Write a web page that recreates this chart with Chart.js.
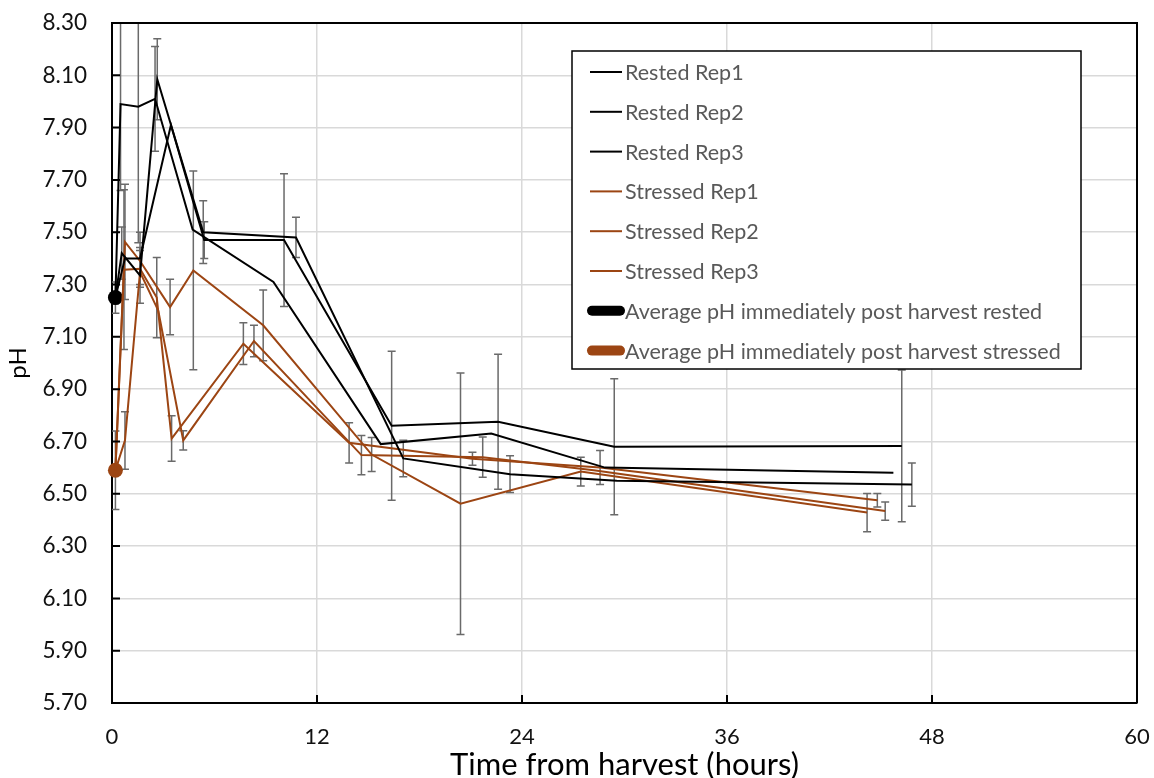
<!DOCTYPE html>
<html><head><meta charset="utf-8">
<script src="https://cdn.jsdelivr.net/npm/chart.js@4.4.1/dist/chart.umd.min.js"></script>
<style>html,body{margin:0;padding:0;background:#fff;}#wrap{width:1154px;height:778px;position:relative;}</style>
</head><body><div id="wrap"><canvas id="c" width="1154" height="778"></canvas></div>
<script>
// ---- data (hours from harvest, pH, +/- error) ----
const restedRep1X   = [0.2, 0.5, 1.54, 2.52, 4.72, 9.45, 15.73, 22.2, 28.86, 45.74];
const restedRep1Y   = [7.25, 7.99, 7.98, 8.01, 7.51, 7.31, 6.69, 6.73, 6.60, 6.58];
const restedRep1Err = [0, 0.33, 0.52, 0.20, 0, 0, 0, 0, 0, 0];

const restedRep2X   = [0.2, 0.57, 1.64, 2.65, 5.34, 10.77, 17.05, 23.3, 29.55, 46.82];
const restedRep2Y   = [7.25, 7.42, 7.335, 8.085, 7.50, 7.48, 6.635, 6.575, 6.55, 6.535];
const restedRep2Err = [0, 0.10, 0.107, 0.155, 0.12, 0.077, 0.07, 0.07, 0, 0.083];

const restedRep3X   = [0.2, 0.76, 1.64, 3.45, 5.4, 10.07, 16.37, 22.6, 29.4, 46.23];
const restedRep3Y   = [7.25, 7.40, 7.40, 7.91, 7.47, 7.47, 6.76, 6.775, 6.68, 6.683];
const restedRep3Err = [0, 0, 0.10, 0, 0.07, 0.254, 0.285, 0.258, 0.26, 0.29];

const stressedRep1X   = [0.2, 0.76, 1.64, 3.40, 4.76, 8.85, 15.2, 20.4, 27.44, 44.2];
const stressedRep1Y   = [6.59, 7.463, 7.39, 7.214, 7.354, 7.144, 6.65, 6.462, 6.585, 6.428];
const stressedRep1Err = [0, 0.22, 0, 0.106, 0.38, 0.135, 0.065, 0.50, 0.055, 0.073];

const stressedRep2X   = [0.2, 0.7, 1.64, 2.62, 3.49, 7.69, 13.88, 21.1, 28.57, 44.8];
const stressedRep2Y   = [6.59, 7.357, 7.36, 7.25, 6.711, 7.074, 6.695, 6.634, 6.60, 6.475];
const stressedRep2Err = [0, 0.305, 0.07, 0.153, 0.087, 0.08, 0.077, 0.025, 0.065, 0.026];

const stressedRep3X   = [0.2, 0.76, 1.64, 2.71, 4.17, 8.31, 14.6, 21.7, 28.2, 45.26];
const stressedRep3Y   = [6.59, 6.704, 7.348, 7.20, 6.704, 7.084, 6.648, 6.64, 6.59, 6.434];
const stressedRep3Err = [0, 0.11, 0, 0, 0.037, 0.06, 0.075, 0.077, 0, 0.035];

const avgRestedX = [0.2],  avgRestedY = [7.25],  avgRestedErr = [0.06];
const avgStressedX = [0.2], avgStressedY = [6.59], avgStressedErr = [0.15];

const seriesNames = ['Rested Rep1','Rested Rep2','Rested Rep3','Stressed Rep1','Stressed Rep2','Stressed Rep3',
  'Average pH immediately post harvest rested','Average pH immediately post harvest stressed'];

const yMin = 5.7, yMax = 8.3, yStep = 0.2;
const xMin = 0, xMax = 60, xStep = 12;

// ---- styles ----
const BLACK = '#000000', BROWN = '#9C4513', ERR = '#6a6a6a';
const pts = (xs, ys) => xs.map((x, i) => ({x, y: ys[i]}));

function lineDs(label, xs, ys, errs, color) {
  return {label, data: pts(xs, ys), errors: errs, borderColor: color, backgroundColor: color,
    borderWidth: 2, pointRadius: 0, pointHoverRadius: 0, tension: 0, fill: false, thick: false};
}
function dotDs(label, xs, ys, errs, color) {
  return {label, data: pts(xs, ys), errors: errs, borderColor: color, backgroundColor: color,
    showLine: false, pointRadius: 7.5, pointBorderWidth: 0, pointBackgroundColor: color, thick: true, clip: false};
}

const datasets = [
  lineDs(seriesNames[0], restedRep1X, restedRep1Y, restedRep1Err, BLACK),
  lineDs(seriesNames[1], restedRep2X, restedRep2Y, restedRep2Err, BLACK),
  lineDs(seriesNames[2], restedRep3X, restedRep3Y, restedRep3Err, BLACK),
  lineDs(seriesNames[3], stressedRep1X, stressedRep1Y, stressedRep1Err, BROWN),
  lineDs(seriesNames[4], stressedRep2X, stressedRep2Y, stressedRep2Err, BROWN),
  lineDs(seriesNames[5], stressedRep3X, stressedRep3Y, stressedRep3Err, BROWN),
  dotDs(seriesNames[6], avgRestedX, avgRestedY, avgRestedErr, BLACK),
  dotDs(seriesNames[7], avgStressedX, avgStressedY, avgStressedErr, BROWN)
];

const errorBars = {
  id: 'errorBars',
  beforeDatasetsDraw(chart) {
    const {ctx, chartArea: ca, scales: {x, y}} = chart;
    ctx.save();
    ctx.beginPath(); ctx.rect(ca.left, ca.top, ca.right - ca.left, ca.bottom - ca.top); ctx.clip();
    ctx.strokeStyle = ERR; ctx.lineWidth = 1.5;
    chart.data.datasets.forEach(ds => {
      if (!ds.errors) return;
      ds.data.forEach((p, i) => {
        const e = ds.errors[i]; if (!e) return;
        const px = x.getPixelForValue(p.x);
        const y1 = y.getPixelForValue(p.y + e), y2 = y.getPixelForValue(p.y - e);
        ctx.beginPath();
        ctx.moveTo(px, y1); ctx.lineTo(px, y2);
        ctx.moveTo(px - 4, y1); ctx.lineTo(px + 4, y1);
        ctx.moveTo(px - 4, y2); ctx.lineTo(px + 4, y2);
        ctx.stroke();
      });
    });
    ctx.restore();
  }
};

const frame = {
  id: 'frame',
  afterDatasetsDraw(chart) {
    const {ctx, chartArea: ca, scales: {x, y}} = chart;
    ctx.save();
    ctx.strokeStyle = BLACK; ctx.lineWidth = 2;
    ctx.beginPath();
    ctx.moveTo(ca.left, ca.top); ctx.lineTo(ca.right, ca.top); ctx.lineTo(ca.right, ca.bottom);
    ctx.moveTo(ca.left, ca.bottom); ctx.lineTo(ca.right, ca.bottom);
    ctx.stroke();
    ctx.beginPath();
    y.ticks.forEach(t => { const py = y.getPixelForValue(t.value); ctx.moveTo(ca.left, py); ctx.lineTo(ca.left + 8, py); });
    x.ticks.forEach(t => { const px = x.getPixelForValue(t.value); ctx.moveTo(px, ca.bottom); ctx.lineTo(px, ca.bottom - 8); });
    ctx.stroke();
    ctx.restore();
  }
};

const legendBox = {
  id: 'legendBox',
  afterDraw(chart) {
    const {ctx, chartArea: ca} = chart;
    const L = ca.left + 460, T = ca.top + 28, R = ca.left + 969, B = ca.top + 346;
    ctx.save();
    ctx.fillStyle = '#ffffff'; ctx.fillRect(L, T, R - L, B - T);
    ctx.strokeStyle = BLACK; ctx.lineWidth = 1.5; ctx.strokeRect(L, T, R - L, B - T);
    ctx.font = '21.5px Lato'; ctx.textBaseline = 'middle'; ctx.textAlign = 'left';
    chart.data.datasets.forEach((ds, i) => {
      const cy = T + 21 + i * 39.8;
      ctx.strokeStyle = ds.borderColor;
      ctx.beginPath();
      if (ds.thick) { ctx.lineWidth = 10; ctx.lineCap = 'round'; ctx.moveTo(L + 20, cy); ctx.lineTo(L + 48, cy); }
      else { ctx.lineWidth = 2; ctx.lineCap = 'butt'; ctx.moveTo(L + 18, cy); ctx.lineTo(L + 50, cy); }
      ctx.stroke();
      ctx.fillStyle = '#595959';
      ctx.fillText(ds.label, L + 53, cy + 1);
    });
    ctx.restore();
  }
};

function zeroPad(s) { s.paddingTop = 0; s.paddingBottom = 0; s.paddingLeft = 0; s.paddingRight = 0; }

new Chart(document.getElementById('c'), {
  type: 'line',
  data: {datasets},
  options: {
    responsive: false, animation: false, devicePixelRatio: 1,
    layout: {padding: {top: 23, right: 17, left: 0, bottom: 0}},
    plugins: {legend: {display: false}, tooltip: {enabled: false}},
    scales: {
      x: {
        type: 'linear', min: xMin, max: xMax,
        afterFit(s) { s.height = 75; zeroPad(s); },
        ticks: {stepSize: xStep, color: '#111', font: {family: 'Lato', size: 22}, padding: 21},
        grid: {color: '#d9d9d9', lineWidth: 1.5, drawTicks: false},
        border: {display: true, color: BLACK, width: 2},
        title: {display: true, text: 'Time from harvest (hours)', color: '#000',
          font: {family: 'Lato', size: 31, lineHeight: 1}, padding: {top: 0, bottom: -2}}
      },
      y: {
        type: 'linear', min: yMin, max: yMax,
        afterFit(s) { s.width = 112; zeroPad(s); },
        ticks: {stepSize: yStep, color: '#111', font: {family: 'Lato', size: 22.5}, padding: 25,
          callback: v => Number(v).toFixed(2)},
        grid: {color: '#d9d9d9', lineWidth: 1.5, drawTicks: false},
        border: {display: true, color: BLACK, width: 2},
        title: {display: true, text: 'pH', color: '#000',
          font: {family: 'Lato', size: 24, lineHeight: 1}, padding: {top: 6, bottom: 0}}
      }
    }
  },
  plugins: [errorBars, frame, legendBox]
});
</script></body></html>
